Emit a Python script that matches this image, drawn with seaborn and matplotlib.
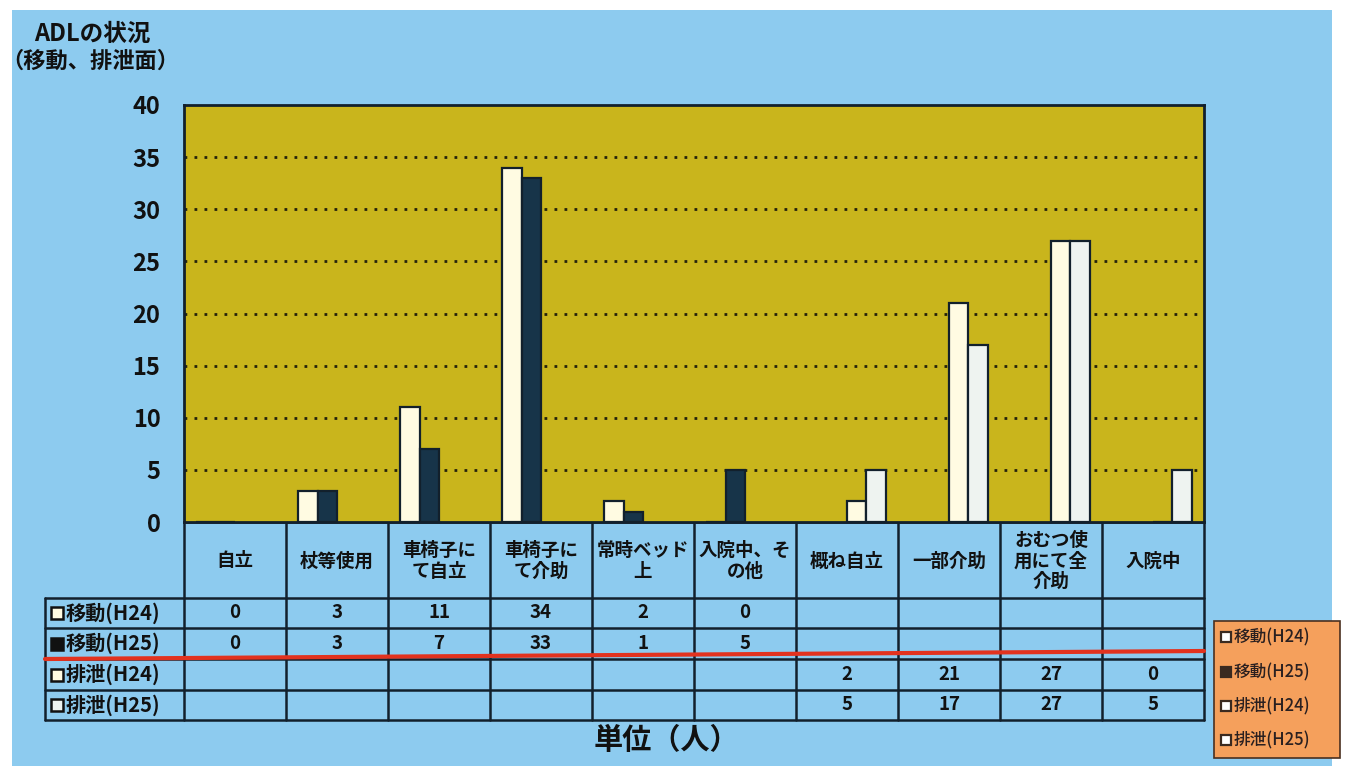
import numpy as np
import pandas as pd
import matplotlib
matplotlib.use("Agg")
import matplotlib.pyplot as plt
import seaborn as sns
from matplotlib.patches import Rectangle

# ---------------- data ----------------
categories = ["自立", "杖等使用", "車椅子に\nて自立", "車椅子に\nて介助", "常時ベッド\n上",
              "入院中、そ\nの他", "概ね自立", "一部介助", "おむつ使\n用にて全\n介助", "入院中"]
series = ["移動(H24)", "移動(H25)", "排泄(H24)", "排泄(H25)"]
move_h24 = [0, 3, 11, 34, 2, 0, None, None, None, None]
move_h25 = [0, 3, 7, 33, 1, 5, None, None, None, None]
excr_h24 = [None, None, None, None, None, None, 2, 21, 27, 0]
excr_h25 = [None, None, None, None, None, None, 5, 17, 27, 5]
yticks = [0, 5, 10, 15, 20, 25, 30, 35, 40]
title_lines = ["ADLの状況", "（移動、排泄面）"]
unit_label = "単位（人）"

series_values = [move_h24, move_h25, excr_h24, excr_h25]
rows = []
for s, vals in zip(series, series_values):
    for c, v in zip(categories, vals):
        rows.append({"category": c, "series": s, "value": np.nan if v is None else v})
df = pd.DataFrame(rows)

# ---------------- style ----------------
sns.set_theme(style="white")
plt.rcParams['font.family'] = ['Noto Sans CJK JP', 'DejaVu Sans']

W, H = 1354, 766
fig = plt.figure(figsize=(W / 100, H / 100), dpi=100)
fig.patch.set_facecolor("white")

def fr(x0, y0, x1, y1):
    return [x0 / W, 1 - y1 / H, (x1 - x0) / W, (y1 - y0) / H]

BLUE = "#8dcbef"
OLIVE = "#c9b51c"
DARK = "#12202c"
TXT = "#111111"
colors = {"移動(H24)": "#fffbe2", "移動(H25)": "#173449",
          "排泄(H24)": "#fffbe2", "排泄(H25)": "#eef3f0"}

# overlay in pixel coordinates
ov = fig.add_axes([0, 0, 1, 1], zorder=0)
ov.set_xlim(0, W)
ov.set_ylim(H, 0)
ov.axis("off")
ov.add_patch(Rectangle((12, 10), 1320, 756, facecolor=BLUE, edgecolor="none"))

# ---------------- main chart ----------------
PX0, PX1, PY0, PY1 = 184, 1204, 105, 522
ax = fig.add_axes(fr(PX0, PY0, PX1, PY1), zorder=1)
ax.set_facecolor(OLIVE)
sns.barplot(data=df, x="category", y="value", hue="series", order=categories,
            hue_order=series, palette=colors, width=0.76, saturation=1,
            edgecolor=DARK, linewidth=1.6, ax=ax, legend=False, errorbar=None)
ax.set_xlim(-0.5, len(categories) - 0.5)
ax.set_ylim(0, 40)
ax.set_yticks(yticks)
ax.set_yticklabels([str(t) for t in yticks], fontsize=17, fontweight="bold", color=TXT)
ax.tick_params(axis="y", length=0, pad=17)
ax.set_xticks([])
ax.set_xlabel("")
ax.set_ylabel("")
for y in yticks[1:-1]:
    ax.axhline(y, color="#25230c", lw=2.0, ls=(0, (1.0, 2.6)), zorder=0.5)
for sp in ax.spines.values():
    sp.set_visible(True)
    sp.set_color(DARK)
    sp.set_linewidth(2)

# ---------------- data table ----------------
ncol = len(categories)
cw = (PX1 - PX0) / ncol
col_x = [PX0 + cw * i for i in range(ncol + 1)]
LX = 45
row_edges = [598, 628, 659, 690, 720]
lc = DARK
lw = 1.8
ov.plot([PX0, PX1], [PY1, PY1], color=lc, lw=lw)
for x in col_x:
    ov.plot([x, x], [PY1, row_edges[-1]], color=lc, lw=lw)
ov.plot([LX, LX], [row_edges[0], row_edges[-1]], color=lc, lw=lw)
for y in row_edges:
    ov.plot([LX, PX1], [y, y], color=lc, lw=lw)
for i, c in enumerate(categories):
    ov.text((col_x[i] + col_x[i + 1]) / 2, (PY1 + row_edges[0]) / 2 + 1, c,
            ha="center", va="center", fontsize=13.3, fontweight="bold",
            color=TXT, linespacing=1.1)
for r, (s, vals) in enumerate(zip(series, series_values)):
    yc = (row_edges[r] + row_edges[r + 1]) / 2
    ov.add_patch(Rectangle((51, yc - 6), 12, 12, facecolor=colors[s] if r != 1 else TXT,
                           edgecolor=TXT, lw=1.8))
    ov.text(66, yc, s, ha="left", va="center", fontsize=14.5, fontweight="bold", color=TXT)
    for i, v in enumerate(vals):
        if v is not None:
            ov.text((col_x[i] + col_x[i + 1]) / 2, yc, str(v), ha="center", va="center",
                    fontsize=13.5, fontweight="bold", color=TXT)
ov.plot([LX, PX1], [659, 651], color="#e2321e", lw=3)

# ---------------- legend ----------------
ov.add_patch(Rectangle((1214, 621), 126, 137, facecolor="#f5a05c", edgecolor="#4a3020", lw=1.2))
for s, y in zip(series, [637, 672, 706, 740]):
    ov.add_patch(Rectangle((1221, y - 5), 10, 10, facecolor="#ffffff" if s != "移動(H25)" else "#3a2a20",
                           edgecolor="#3a2a20", lw=1.6))
    ov.text(1234, y, s, ha="left", va="center", fontsize=12, fontweight="medium", color="#2a2020")

# ---------------- titles ----------------
ov.text(92, 34, title_lines[0], ha="center", va="center", fontsize=17, fontweight="bold", color=TXT)
ov.text(90, 61, title_lines[1], ha="center", va="center", fontsize=16, fontweight="bold", color=TXT)
ov.text(666, 740, unit_label, ha="center", va="center", fontsize=21, fontweight="bold", color=TXT)

fig.savefig("out.png", dpi=100, facecolor=fig.get_facecolor())
